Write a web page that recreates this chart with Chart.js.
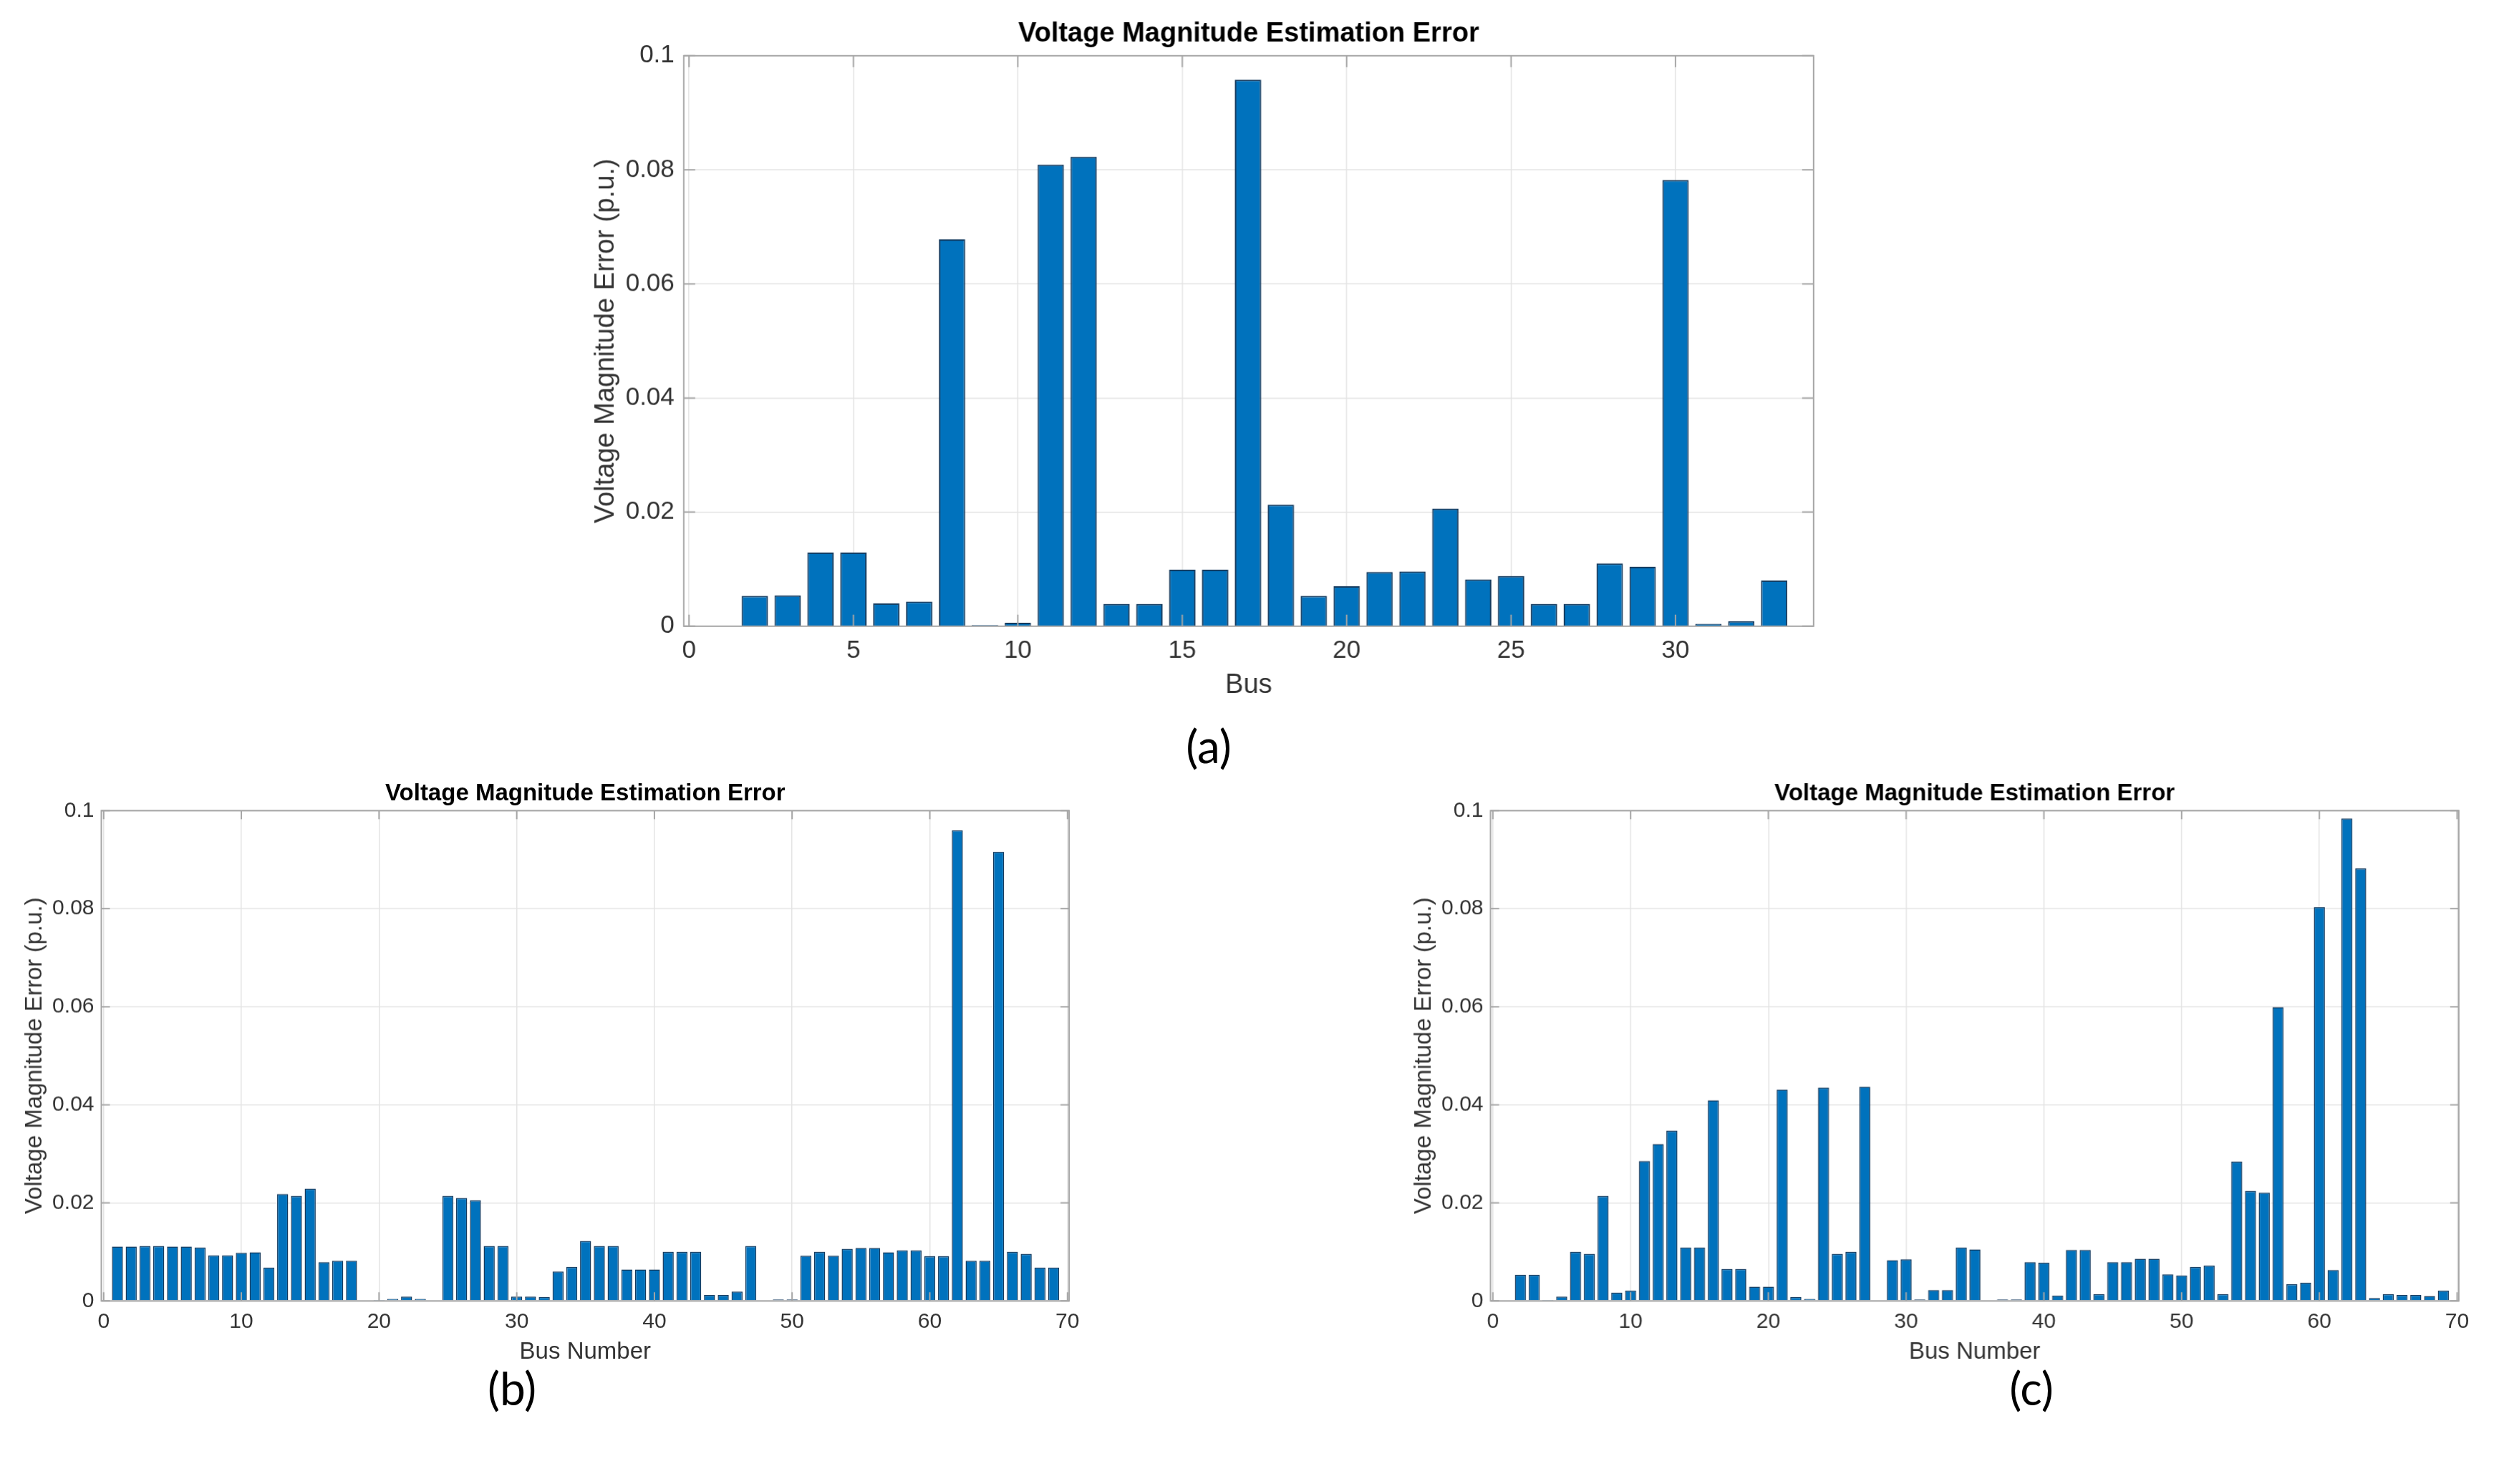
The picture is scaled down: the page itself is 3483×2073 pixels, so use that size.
<!DOCTYPE html>
<html>
<head>
<meta charset="utf-8">
<script src="https://cdn.jsdelivr.net/npm/chart.js@4.4.1/dist/chart.umd.min.js"></script>
<style>
  html, body { margin: 0; padding: 0; background: #ffffff; }
  body { width: 3483px; height: 2073px; position: relative; overflow: hidden; }
  .box { position: absolute; }
  .cap { position: absolute; font-family: Lato, "Open Sans", sans-serif; font-size: 64px; color: #000; transform: translate(-50%, -50%); line-height: 1; white-space: nowrap; }
</style>
</head>
<body>
<div class="box" id="boxA" style="left:824.2px; top:25.2px; width:1747.8px; height:954.6px;"><canvas id="chartA"></canvas></div>
<div class="box" id="boxB" style="left:29.2px; top:1089.2px; width:1504.1px; height:818.6px;"><canvas id="chartB"></canvas></div>
<div class="box" id="boxC" style="left:1969.2px; top:1089.2px; width:1503.8px; height:818.6px;"><canvas id="chartC"></canvas></div>
<div class="cap" style="left:1688px; top:1042px;">(a)</div>
<div class="cap" style="left:715px; top:1939px;">(b)</div>
<div class="cap" style="left:2837px; top:1939px;">(c)</div>
<script>
// ---------------- DATA ----------------
const chartTitle = "Voltage Magnitude Estimation Error";
const yAxisTitle = "Voltage Magnitude Error (p.u.)";
const xAxisTitleA = "Bus";
const xAxisTitleBC = "Bus Number";

const busA = [1,2,3,4,5,6,7,8,9,10,11,12,13,14,15,16,17,18,19,20,21,22,23,24,25,26,27,28,29,30,31,32,33];
const errA = [0, 0.0053, 0.0054, 0.0129, 0.0129, 0.0040, 0.0043, 0.0678, 0.0002, 0.0006,
              0.0809, 0.0823, 0.0039, 0.0039, 0.0099, 0.0099, 0.0958, 0.0213, 0.0053, 0.0070,
              0.0095, 0.0096, 0.0206, 0.0082, 0.0088, 0.0039, 0.0039, 0.0110, 0.0104, 0.0782,
              0.0004, 0.0009, 0.0080];

const busBC = [1,2,3,4,5,6,7,8,9,10,11,12,13,14,15,16,17,18,19,20,21,22,23,24,25,26,27,28,29,30,
               31,32,33,34,35,36,37,38,39,40,41,42,43,44,45,46,47,48,49,50,51,52,53,54,55,56,57,58,59,60,
               61,62,63,64,65,66,67,68,69];
const errB = [0.0111, 0.0111, 0.0112, 0.0112, 0.0111, 0.0111, 0.0109, 0.0093, 0.0093, 0.0098,
              0.0099, 0.0068, 0.0218, 0.0214, 0.0229, 0.0079, 0.0082, 0.0082, 0, 0.0002,
              0.0004, 0.0009, 0.0004, 0.0001, 0.0214, 0.0210, 0.0205, 0.0112, 0.0112, 0.0009,
              0.0009, 0.0008, 0.0060, 0.0069, 0.0122, 0.0112, 0.0112, 0.0064, 0.0064, 0.0064,
              0.0100, 0.0100, 0.0100, 0.0012, 0.0012, 0.0019, 0.0112, 0, 0.0003, 0.0003,
              0.0092, 0.0100, 0.0092, 0.0106, 0.0108, 0.0108, 0.0099, 0.0103, 0.0103, 0.0091,
              0.0091, 0.0960, 0.0082, 0.0082, 0.0916, 0.0100, 0.0096, 0.0068, 0.0068];
const errC = [0, 0.0053, 0.0053, 0.0002, 0.0009, 0.0100, 0.0096, 0.0214, 0.0017, 0.0021,
              0.0285, 0.0320, 0.0347, 0.0109, 0.0109, 0.0409, 0.0065, 0.0065, 0.0029, 0.0029,
              0.0431, 0.0008, 0.0004, 0.0435, 0.0096, 0.0100, 0.0437, 0, 0.0083, 0.0085,
              0.0003, 0.0022, 0.0022, 0.0109, 0.0105, 0, 0.0003, 0.0003, 0.0079, 0.0078,
              0.0011, 0.0104, 0.0104, 0.0014, 0.0079, 0.0079, 0.0086, 0.0086, 0.0054, 0.0052,
              0.0069, 0.0072, 0.0014, 0.0284, 0.0224, 0.0221, 0.0599, 0.0034, 0.0037, 0.0803,
              0.0063, 0.0984, 0.0882, 0.0006, 0.0014, 0.0012, 0.0012, 0.0010, 0.0021];

const yTickValues = [0, 0.02, 0.04, 0.06, 0.08, 0.1];
const yTickLabels = ["0", "0.02", "0.04", "0.06", "0.08", "0.1"];
const xTickValuesA = [0, 5, 10, 15, 20, 25, 30];
const xTickValuesBC = [0, 10, 20, 30, 40, 50, 60, 70];

// ---------------- STYLE ----------------
Chart.defaults.font.family = "'Liberation Sans', Arial, Helvetica, sans-serif";
const barFill = "#0072BD";
const barEdge = "#143a5e";
const gridColor = "#e4e4e4";
const boxColor = "#a6a6a6";
const textColor = "#333333";

const matlabBox = {
  id: "matlabBox",
  afterDatasetsDraw(chart, args, opts) {
    const { ctx, chartArea: a, scales } = chart;
    const len = opts.tickLen || 12;
    ctx.save();
    ctx.strokeStyle = boxColor;
    ctx.lineWidth = 2;
    ctx.beginPath();
    scales.x.ticks.forEach(t => {
      const px = scales.x.getPixelForValue(t.value);
      ctx.moveTo(px, a.bottom); ctx.lineTo(px, a.bottom - len);
      ctx.moveTo(px, a.top); ctx.lineTo(px, a.top + len);
    });
    scales.y.ticks.forEach(t => {
      const py = scales.y.getPixelForValue(t.value);
      ctx.moveTo(a.left, py); ctx.lineTo(a.left + len, py);
      ctx.moveTo(a.right, py); ctx.lineTo(a.right - len, py);
    });
    ctx.stroke();
    ctx.strokeRect(a.left, a.top, a.right - a.left, a.bottom - a.top);
    ctx.restore();
  }
};

function makeChart(id, buses, errs, cfg) {
  const ctx = document.getElementById(id);
  return new Chart(ctx, {
    type: "bar",
    data: {
      labels: buses,
      datasets: [{
        data: errs,
        backgroundColor: barFill,
        borderColor: barEdge,
        borderWidth: cfg.barBorder,
        borderSkipped: "start",
        barPercentage: 0.8,
        categoryPercentage: 1.0
      }]
    },
    plugins: [matlabBox],
    options: {
      responsive: true,
      maintainAspectRatio: false,
      animation: false,
      layout: { padding: { left: 0, top: 0, bottom: 0, right: 40 } },
      plugins: {
        legend: { display: false },
        tooltip: { enabled: false },
        title: {
          display: true,
          text: chartTitle,
          fullSize: false,
          color: "#000000",
          font: { size: cfg.titleSize, weight: "bold", lineHeight: 1.2 },
          padding: { top: 0, bottom: cfg.titlePadBottom }
        },
        matlabBox: { tickLen: cfg.tickLen }
      },
      scales: {
        x: {
          type: "linear",
          min: cfg.xMin,
          max: cfg.xMax,
          offset: false,
          afterBuildTicks: (s) => { s.ticks = cfg.xTicks.map(v => ({ value: v })); },
          afterFit: (s) => { s.height = cfg.xAxisHeight; s.paddingLeft = 0; s.paddingRight = 0; },
          ticks: {
            color: textColor,
            font: { size: cfg.tickSize, lineHeight: 1.2 },
            padding: cfg.xTickPad,
            maxRotation: 0,
            autoSkip: false,
            callback: (v) => String(v)
          },
          grid: { color: gridColor, lineWidth: 1.5, drawTicks: false, offset: false },
          border: { display: false },
          title: {
            display: true,
            text: cfg.xTitle,
            color: textColor,
            font: { size: cfg.labelSize, lineHeight: 1.2 },
            padding: 0
          }
        },
        y: {
          type: "linear",
          min: 0,
          max: 0.1,
          afterBuildTicks: (s) => { s.ticks = yTickValues.map(v => ({ value: v })); },
          afterFit: (s) => { s.width = cfg.yAxisWidth; s.paddingTop = 0; s.paddingBottom = 0; },
          ticks: {
            color: textColor,
            font: { size: cfg.tickSize, lineHeight: 1.2 },
            padding: cfg.yTickPad,
            autoSkip: false,
            callback: (v) => { const i = yTickValues.indexOf(v); return i >= 0 ? yTickLabels[i] : ""; }
          },
          grid: { color: gridColor, lineWidth: 1.5, drawTicks: false },
          border: { display: false },
          title: {
            display: true,
            text: yAxisTitle,
            color: textColor,
            font: { size: cfg.labelSize, lineHeight: 1.2 },
            padding: 0
          }
        }
      }
    }
  });
}

makeChart("chartA", busA, errA, {
  xMin: -0.16, xMax: 34.2, xTicks: xTickValuesA, xTitle: xAxisTitleA,
  titleSize: 38, labelSize: 38, tickSize: 35,
  titlePadBottom: 7.2, xAxisHeight: 105.8, yAxisWidth: 130.8,
  xTickPad: 14, yTickPad: 13, tickLen: 16, barBorder: 2
});
makeChart("chartB", busBC, errB, {
  xMin: -0.17, xMax: 70.12, xTicks: xTickValuesBC, xTitle: xAxisTitleBC,
  titleSize: 33, labelSize: 33, tickSize: 30,
  titlePadBottom: 3.7, xAxisHeight: 91.3, yAxisWidth: 112.5,
  xTickPad: 11.5, yTickPad: 10, tickLen: 12, barBorder: 1.5
});
makeChart("chartC", busBC, errC, {
  xMin: -0.17, xMax: 70.12, xTicks: xTickValuesBC, xTitle: xAxisTitleBC,
  titleSize: 33, labelSize: 33, tickSize: 30,
  titlePadBottom: 3.7, xAxisHeight: 91.3, yAxisWidth: 112.5,
  xTickPad: 11.5, yTickPad: 10, tickLen: 12, barBorder: 1.5
});
</script>
</body>
</html>
